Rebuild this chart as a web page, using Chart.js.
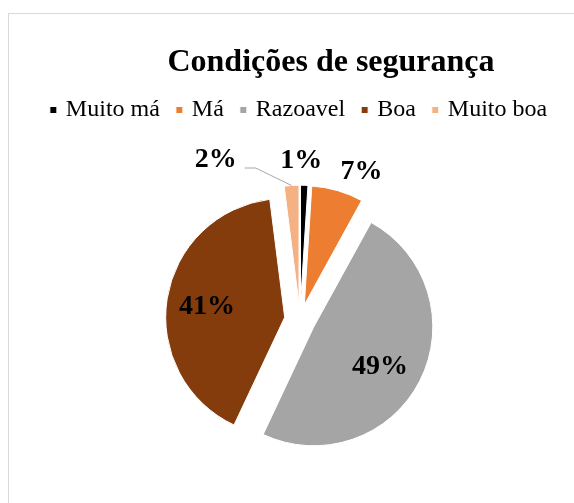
<!DOCTYPE html>
<html lang="pt">
<head>
<meta charset="utf-8">
<title>Condições de segurança</title>
<script src="https://cdn.jsdelivr.net/npm/chart.js@4.4.1/dist/chart.umd.min.js"></script>
<style>
  html, body { margin: 0; padding: 0; background: #fff; overflow: hidden; }
  #moldura { position: absolute; left: 8px; top: 13px; width: 700px; height: 600px; border: 1px solid #d9d9d9; }
  #grafico { display: block; }
</style>
</head>
<body>
<div id="moldura"><canvas id="grafico" width="644" height="499"></canvas></div>
<script>
const categorias = ['Muito má', 'Má', 'Razoavel', 'Boa', 'Muito boa'];
const percentagens = [1, 7, 49, 41, 2];
const cores = ['#000000', '#ED7D31', '#A5A5A5', '#843C0C', '#F4B183'];

const SERIF = "'Liberation Serif', 'Times New Roman', serif";
const EXPLOSAO = 15.5;

// onde fica cada rótulo: fração do raio e desvio (graus) em relação ao meio da fatia
const posRotulos = [
    { r: 1.21, da: -1.5 },
    { r: 1.22, da: 7 },
    { r: 0.65, da: 4 },
    { r: 0.66, da: -1 },
    { r: 1.40, da: -26.4, guia: true }
];

// afasta todas as fatias do centro, como a "explosão" do Excel
const explodirFatias = {
    id: 'explodirFatias',
    afterDatasetUpdate(chart, args) {
        args.meta.data.forEach(arc => {
            const meio = (arc.startAngle + arc.endAngle) / 2;
            arc.x += Math.cos(meio) * EXPLOSAO;
            arc.y += Math.sin(meio) * EXPLOSAO;
        });
    }
};

// rótulos de percentagem (e a linha guia do 2%)
const rotulos = {
    id: 'rotulos',
    afterDatasetsDraw(chart) {
        const ctx = chart.ctx;
        const total = percentagens.reduce((a, b) => a + b, 0);
        ctx.save();
        ctx.font = `bold 28px ${SERIF}`;
        ctx.fillStyle = '#000';
        ctx.textAlign = 'center';
        ctx.textBaseline = 'middle';
        chart.getDatasetMeta(0).data.forEach((arc, i) => {
            const p = posRotulos[i];
            const meio = (arc.startAngle + arc.endAngle) / 2;
            const ang = meio + p.da * Math.PI / 180;
            const x = arc.x + Math.cos(ang) * arc.outerRadius * p.r;
            const y = arc.y + Math.sin(ang) * arc.outerRadius * p.r;
            const texto = Math.round(percentagens[i] / total * 100) + '%';
            ctx.fillText(texto, x, y);
            if (p.guia) {
                const x0 = x + ctx.measureText(texto).width / 2 + 8;
                ctx.beginPath();
                ctx.strokeStyle = '#a6a6a6';
                ctx.lineWidth = 1;
                ctx.moveTo(x0, y + 8);
                ctx.lineTo(x0 + 11, y + 8);
                ctx.lineTo(arc.x + Math.cos(meio) * arc.outerRadius, arc.y + Math.sin(meio) * arc.outerRadius);
                ctx.stroke();
            }
        });
        ctx.restore();
    }
};

new Chart(document.getElementById('grafico'), {
    type: 'pie',
    data: {
        labels: categorias,
        datasets: [{
            data: percentagens,
            backgroundColor: cores,
            borderColor: '#fff',
            borderWidth: 1
        }]
    },
    options: {
        responsive: false,
        animation: false,
        radius: 119,
        layout: { padding: { bottom: 5.5 } },
        plugins: {
            title: {
                display: true,
                text: 'Condições de segurança',
                color: '#000',
                font: { family: SERIF, size: 32, weight: 'bold', lineHeight: 1 },
                padding: { top: 32.5, bottom: 0.5 }
            },
            // subtítulo vazio à direita: reserva espaço para o gráfico ficar à esquerda do título
            subtitle: {
                display: true,
                position: 'right',
                text: '',
                font: { size: 10, lineHeight: 1 },
                padding: { top: 26, bottom: 26 }
            },
            legend: {
                position: 'top',
                fullSize: false,
                labels: {
                    usePointStyle: true,
                    pointStyle: 'rect',
                    boxWidth: 1,
                    boxHeight: 7,
                    padding: 19,
                    color: '#000',
                    font: { family: SERIF, size: 24 }
                }
            },
            tooltip: { enabled: false }
        }
    },
    plugins: [explodirFatias, rotulos]
});
</script>
</body>
</html>
